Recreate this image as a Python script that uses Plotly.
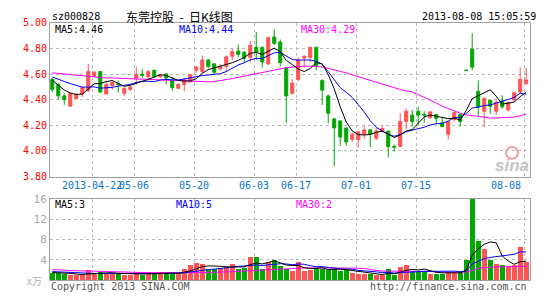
import plotly.graph_objects as go

# ---------------- data ----------------
opens = [4.56, 4.52, 4.43, 4.35, 4.41, 4.445, 4.47, 4.59, 4.62, 4.445,
         4.51, 4.525, 4.45, 4.48, 4.57, 4.60, 4.58, 4.63, 4.58, 4.60,
         4.555, 4.49, 4.52, 4.54, 4.63, 4.62, 4.71, 4.68, 4.64, 4.66,
         4.74, 4.78, 4.77, 4.73, 4.81, 4.81, 4.68, 4.89, 4.85, 4.65,
         4.45, 4.56, 4.725, 4.73, 4.81, 4.55, 4.43, 4.25, 4.235, 4.18,
         4.09, 4.09, 4.13, 4.165, 4.10, 4.155, 4.155, 4.035, 4.035, 4.23,
         4.28, 4.31, 4.285, 4.26, 4.285, 4.22, 4.13, 4.245, 4.285, 4.632,
         4.795, 4.465, 4.31, 4.395, 4.31, 4.39, 4.32, 4.40, 4.46, 4.525]
highs = [4.57, 4.53, 4.45, 4.45, 4.45, 4.495, 4.68, 4.625, 4.625, 4.55,
         4.55, 4.55, 4.495, 4.51, 4.66, 4.64, 4.63, 4.635, 4.60, 4.61,
         4.575, 4.53, 4.57, 4.60, 4.665, 4.745, 4.72, 4.685, 4.68, 4.745,
         4.80, 4.83, 4.78, 4.86, 4.93, 4.81, 4.895, 4.95, 4.87, 4.655,
         4.56, 4.73, 4.745, 4.81, 4.81, 4.56, 4.44, 4.26, 4.235, 4.18,
         4.145, 4.155, 4.195, 4.165, 4.18, 4.195, 4.16, 4.05, 4.295, 4.33,
         4.32, 4.345, 4.31, 4.315, 4.285, 4.26, 4.23, 4.31, 4.29, 4.632,
         4.92, 4.55, 4.42, 4.395, 4.395, 4.435, 4.385, 4.46, 4.655, 4.65]
lows = [4.46, 4.40, 4.36, 4.345, 4.41, 4.42, 4.46, 4.58, 4.455, 4.44,
        4.48, 4.455, 4.43, 4.47, 4.52, 4.57, 4.555, 4.575, 4.57, 4.52,
        4.47, 4.48, 4.465, 4.535, 4.61, 4.61, 4.645, 4.60, 4.63, 4.62,
        4.71, 4.73, 4.69, 4.69, 4.71, 4.65, 4.67, 4.83, 4.66, 4.22,
        4.44, 4.545, 4.65, 4.695, 4.63, 4.36, 4.215, 3.88, 4.04, 4.04,
        4.07, 4.025, 4.095, 4.03, 4.085, 4.145, 3.95, 3.995, 4.03, 4.17,
        4.19, 4.205, 4.22, 4.25, 4.21, 4.185, 4.09, 4.23, 4.19, 4.628,
        4.63, 4.275, 4.185, 4.29, 4.28, 4.33, 4.31, 4.385, 4.445, 4.52]
closes = [4.48, 4.43, 4.40, 4.45, 4.445, 4.495, 4.62, 4.615, 4.46, 4.52,
          4.535, 4.52, 4.49, 4.50, 4.595, 4.59, 4.62, 4.58, 4.59, 4.57,
          4.495, 4.52, 4.555, 4.595, 4.655, 4.71, 4.66, 4.615, 4.66, 4.735,
          4.775, 4.755, 4.725, 4.825, 4.77, 4.695, 4.885, 4.84, 4.69, 4.43,
          4.53, 4.71, 4.74, 4.81, 4.665, 4.475, 4.295, 4.18, 4.11, 4.07,
          4.13, 4.15, 4.165, 4.13, 4.155, 4.175, 4.035, 4.03, 4.23, 4.31,
          4.23, 4.28, 4.28, 4.305, 4.255, 4.19, 4.23, 4.30, 4.23, 4.628,
          4.655, 4.345, 4.41, 4.35, 4.38, 4.345, 4.38, 4.455, 4.56, 4.555]
# closes of the 9 sessions before the window (needed for MA5 / MA10)
prev_closes = [4.58, 4.60, 4.62, 4.61, 4.605, 4.615, 4.60, 4.565, 4.505]
ma30 = [4.61, 4.605, 4.60, 4.595, 4.59, 4.585, 4.58, 4.575, 4.572, 4.57,
        4.57, 4.568, 4.566, 4.565, 4.563, 4.56, 4.558, 4.556, 4.553, 4.55,
        4.548, 4.545, 4.543, 4.541, 4.54, 4.54, 4.54, 4.542, 4.548, 4.555,
        4.565, 4.575, 4.585, 4.595, 4.605, 4.615, 4.625, 4.635, 4.645, 4.65,
        4.655, 4.66, 4.662, 4.663, 4.66, 4.655, 4.645, 4.635, 4.62, 4.61,
        4.595, 4.58, 4.565, 4.55, 4.535, 4.52, 4.507, 4.495, 4.48, 4.47,
        4.46, 4.44, 4.42, 4.40, 4.375, 4.35, 4.33, 4.31, 4.295, 4.282,
        4.275, 4.268, 4.262, 4.258, 4.257, 4.258, 4.26, 4.265, 4.275, 4.288]

volumes = [1.5, 1.4, 1.2, 1.07, 0.95, 1.07, 2.0, 1.2, 1.57, 1.4,
           1.26, 1.4, 0.95, 1.07, 1.7, 1.07, 1.57, 1.2, 1.57, 1.4,
           1.26, 1.4, 2.2, 2.95, 3.5, 3.3, 2.2, 2.3, 2.45, 2.8,
           3.3, 2.2, 2.4, 4.65, 4.5, 2.3, 3.7, 3.9, 2.8, 2.3,
           1.8, 3.7, 1.8, 2.0, 2.45, 2.3, 2.0, 2.3, 1.8, 2.0,
           1.5, 1.2, 1.2, 1.2, 1.07, 0.95, 2.3, 0.95, 2.65, 2.95,
           1.8, 1.8, 1.8, 1.26, 1.26, 1.2, 1.57, 1.7, 1.57, 3.9,
           16.0, 7.7, 6.2, 3.9, 3.15, 2.95, 2.75, 2.95, 6.5, 3.6]
prev_volumes = [1.9, 2.0, 1.8, 1.9, 1.9, 1.5, 1.6, 1.4, 1.6]
vol_ma30 = [2.1, 2.1, 2.0, 1.9, 1.9, 1.9, 1.9, 1.8, 1.75, 1.7,
            1.7, 1.7, 1.7, 1.65, 1.55, 1.5, 1.5, 1.5, 1.5, 1.45,
            1.4, 1.4, 1.4, 1.4, 1.45, 1.5, 1.55, 1.55, 1.6, 1.65,
            1.7, 1.75, 1.8, 1.85, 1.9, 1.95, 2.0, 2.05, 2.1, 2.2,
            2.3, 2.4, 2.45, 2.45, 2.45, 2.45, 2.45, 2.45, 2.45, 2.45,
            2.45, 2.45, 2.35, 2.1, 1.9, 1.8, 1.8, 1.8, 1.8, 1.8,
            1.8, 1.8, 1.8, 1.75, 1.6, 1.57, 1.57, 1.57, 1.57, 1.6,
            2.0, 2.3, 2.5, 2.6, 2.65, 2.65, 2.7, 2.7, 2.75, 2.75]

tick_idx = [7, 14, 24, 34, 41, 51, 61, 79]
tick_labels = ["2013-04-22", "05-06", "05-20", "06-03", "06-17", "07-01", "07-15", "08-08"]
vol_tick_idx = [7, 14, 24, 34, 51, 61, 79]
price_ticks = [3.8, 4.0, 4.2, 4.4, 4.6, 4.8, 5.0]
vol_ticks = [4, 8, 12, 16]

code = "sz000828"
title = "东莞控股\u00a0\u00a0-\u00a0\u00a0日K线图"
stamp = "2013-08-08 15:05:59"

# ---------------- helpers ----------------
def moving_avg(prev, vals, n):
    full = prev + vals
    off = len(prev)
    return [sum(full[off + i - n + 1: off + i + 1]) / n for i in range(len(vals))]

ma5 = moving_avg(prev_closes, closes, 5)
ma10 = moving_avg(prev_closes, closes, 10)
vma5 = moving_avg(prev_volumes, volumes, 5)
vma10 = moving_avg(prev_volumes, volumes, 10)

W, H = 545, 300
RED = "#ff5454"
GREEN = "#00a800"
BLUE = "#0000ff"
MAG = "#ff00ff"
FRAME = "#a0a0a0"
GRID = "#b8b8b8"
MONO = "DejaVu Sans Mono"
GRID_OFF = -0.35

def py(px):
    return 1 - px / H

x = list(range(len(closes)))
xr = [-0.38, 79.55]
xdom = [50 / W, 529.5 / W]

fig = go.Figure()
fig.add_trace(go.Candlestick(
    x=x, open=opens, high=highs, low=lows, close=closes,
    increasing=dict(line=dict(color=RED, width=1), fillcolor=RED),
    decreasing=dict(line=dict(color=GREEN, width=1), fillcolor=GREEN),
    whiskerwidth=0, xaxis="x", yaxis="y", hoverinfo="skip", showlegend=False))
for series, col in [(ma30, MAG), (ma10, BLUE), (ma5, "#000000")]:
    fig.add_trace(go.Scatter(x=x, y=series, mode="lines", line=dict(color=col, width=1),
                             xaxis="x", yaxis="y", hoverinfo="skip", showlegend=False))

bar_colors = [RED if c > o else GREEN for o, c in zip(opens, closes)]
fig.add_trace(go.Bar(x=x, y=volumes, marker=dict(color=bar_colors, line=dict(width=0)),
                     width=0.83, xaxis="x2", yaxis="y2", hoverinfo="skip", showlegend=False))
for series, col in [(vol_ma30, MAG), (vma10, BLUE), (vma5, "#000000")]:
    fig.add_trace(go.Scatter(x=x, y=series, mode="lines", line=dict(color=col, width=1),
                             xaxis="x2", yaxis="y2", hoverinfo="skip", showlegend=False))

axis_common = dict(showline=True, mirror=True, linecolor=FRAME, linewidth=1,
                   showgrid=True, gridcolor=GRID, griddash="dot", gridwidth=1,
                   zeroline=False, fixedrange=True, ticks="")

fig.update_layout(
    width=W, height=H, margin=dict(l=0, r=0, t=0, b=0), autosize=False,
    paper_bgcolor="white", plot_bgcolor="white", boxgap=0.28, bargap=0,
    xaxis=dict(domain=xdom, range=xr, anchor="y", tickvals=[i + GRID_OFF for i in tick_idx],
               showticklabels=False, rangeslider=dict(visible=False), **axis_common),
    yaxis=dict(domain=[py(177.7), py(17.6)], range=[3.8, 5.0], anchor="x",
               tickvals=price_ticks, ticktext=[f"{v:.2f}" for v in price_ticks],
               tickfont=dict(family=MONO, size=10, color="#ff0000"), **axis_common),
    xaxis2=dict(domain=xdom, range=xr, anchor="y2", tickvals=[i + GRID_OFF for i in vol_tick_idx],
                showticklabels=False, **axis_common),
    yaxis2=dict(domain=[py(285.7), py(201)], range=[0, 16], anchor="x2",
                tickvals=vol_ticks, ticktext=[str(v) for v in vol_ticks],
                tickfont=dict(family=MONO, size=11, color="#a8a8a8"), **axis_common),
)

ann = []
def txt(text, xp, ypx, color="#000000", size=10, anchor="left", family=MONO, xref="paper", **kw):
    ann.append(dict(text=text, x=xp, y=py(ypx), xref=xref, yref="paper", showarrow=False,
                    xanchor=anchor, yanchor="middle", font=dict(family=family, size=size, color=color), **kw))

txt(code, 50 / W, 11, size=10)
txt(title, 179 / W, 11, size=12, anchor="center", family="Noto Sans CJK SC")
txt(stamp, 538 / W, 11, size=10, anchor="right")
txt(f"MA5:{ma5[-1]:.2f}", 53 / W, 24.5)
txt(f"MA10:{ma10[-1]:.2f}", 177 / W, 24.5, color=BLUE)
txt(f"MA30:{ma30[-1]:.2f}", 299 / W, 24.5, color=MAG)
txt(f"MA5:{int(vma5[-1])}", 53 / W, 206.5)
txt(f"MA10:{int(vma10[-1])}", 174 / W, 206.5, color=BLUE)
txt(f"MA30:{int(vol_ma30[-1])}", 294 / W, 206.5, color=MAG)
for i, lab in zip(tick_idx, tick_labels):
    last = (i == tick_idx[-1])
    txt(lab, i + GRID_OFF, 187, color="#0a74c8", anchor="right" if last else "center",
        xref="x", xshift=-1 if last else 0)
txt("x万", 44 / W, 286, color="#b0b0b0", size=10, anchor="right", family="Noto Sans CJK SC")
txt("Copyright 2013 SINA.COM", 49 / W, 292.5, color="#555555")
txt("http://finance.sina.com.cn", 529 / W, 292.5, color="#555555", anchor="right")
txt("<b><i>sina</i></b>", 512 / W, 166, color="#c4c4c4", size=17, anchor="center", family="Arial")
fig.update_layout(annotations=ann)
fig.add_shape(type="circle", xref="paper", yref="paper",
              x0=506 / W, x1=518 / W, y0=py(159), y1=py(147),
              line=dict(color="#f2a0a0", width=2))

fig.write_html("out.html")
